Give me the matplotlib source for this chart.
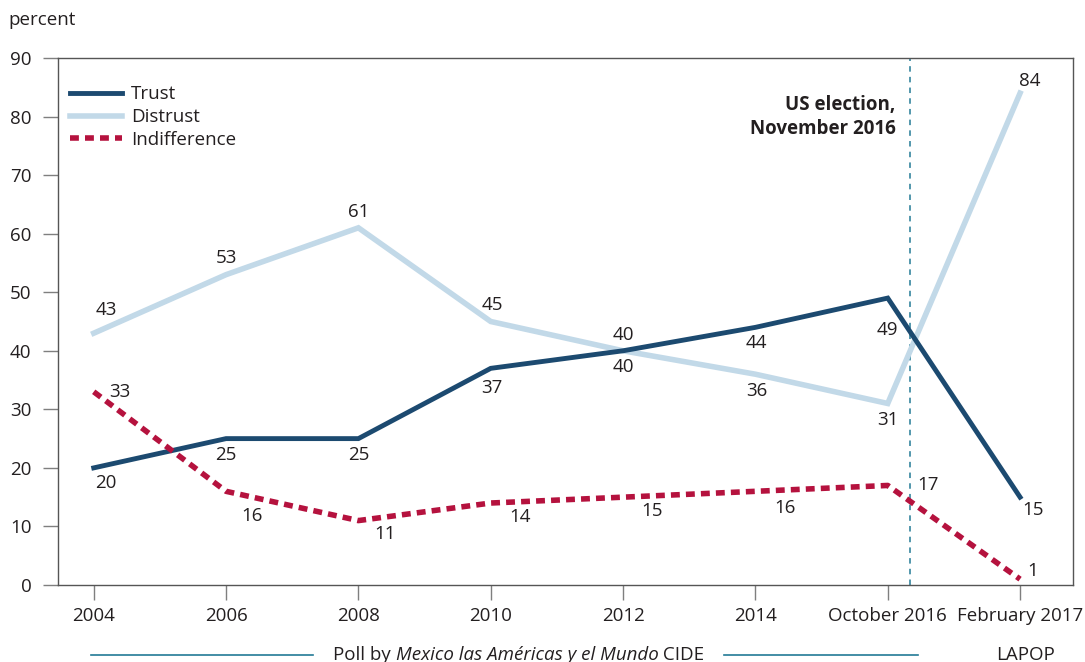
import matplotlib
matplotlib.use("Agg")
import matplotlib.pyplot as plt

plt.rcParams['font.family'] = ['Open Sans', 'DejaVu Sans']

# data
periods = ["2004", "2006", "2008", "2010", "2012", "2014", "October 2016", "February 2017"]
trust = [20, 25, 25, 37, 40, 44, 49, 15]
distrust = [43, 53, 61, 45, 40, 36, 31, 84]
indifference = [33, 16, 11, 14, 15, 16, 17, 1]
y_ticks = [0, 10, 20, 30, 40, 50, 60, 70, 80, 90]

c_trust = "#1c4a70"
c_distrust = "#c2d9e8"
c_indiff = "#b5123e"
c_event = "#237a96"
c_text = "#231f20"
fs = 13.5

W, H = 1085, 662
fig = plt.figure(figsize=(W / 100, H / 100), dpi=100)
ax = fig.add_axes([58 / W, 1 - 585 / H, (1073 - 58) / W, (585 - 58) / H])

x = list(range(len(periods)))
ax.axvline(6.17, color=c_event, lw=1.1, ls=(0, (3.6, 3.4)), zorder=1)
ax.plot(x, distrust, color=c_distrust, lw=4, label="Distrust", zorder=2,
        solid_joinstyle="miter")
ax.plot(x, trust, color=c_trust, lw=3.5, label="Trust", zorder=3,
        solid_joinstyle="miter")
ax.plot(x, indifference, color=c_indiff, lw=4, ls=(0, (1.6, 1.1)),
        label="Indifference", zorder=3)

ax.set_xlim(-0.27, 7.4)
ax.set_ylim(0, 90)
ax.set_xticks(x)
ax.set_xticklabels(periods)
ax.set_yticks(y_ticks)
ax.tick_params(axis="both", length=11, width=1, color="#7f7f7f",
               labelsize=fs, labelcolor=c_text)
ax.tick_params(axis="x", pad=5)
ax.tick_params(axis="y", pad=8)
for s in ax.spines.values():
    s.set_color("#555555")
    s.set_linewidth(1)

# value labels: (dx, dy) in points
lab_kw = dict(textcoords="offset points", fontsize=fs, color=c_text, va="center", ha="center")
trust_off = [(9, -11), (0, -12), (0, -12), (1, -14), (0, -12), (1, -11.5), (0, -23), (9, -9)]
distrust_off = [(9, 17), (0, 12), (0, 11.5), (1, 12), (0, 11), (1, -12), (0, -12), (7, 9)]
indiff_off = [(19, 0), (19, -18), (19, -10), (21, -10), (21, -10), (21, -12), (29, 0), (9, 6)]
for i in x:
    ax.annotate(str(trust[i]), (i, trust[i]), xytext=trust_off[i], **lab_kw)
    ax.annotate(str(distrust[i]), (i, distrust[i]), xytext=distrust_off[i], **lab_kw)
    ax.annotate(str(indifference[i]), (i, indifference[i]), xytext=indiff_off[i], **lab_kw)

ax.text(6.06, 79.9, "US election,\nNovember 2016", ha="right", va="center",
        fontsize=fs, fontweight="bold", color=c_text, linespacing=1.3)

handles, labels = ax.get_legend_handles_labels()
order = [1, 0, 2]
ax.legend([handles[i] for i in order], [labels[i] for i in order],
          loc="upper left", bbox_to_anchor=(0.0118, 0.948), frameon=False,
          fontsize=fs, handlelength=2.8, handletextpad=0.45,
          labelspacing=0.25, borderaxespad=0, borderpad=0, labelcolor=c_text)

fig.text(8 / W, 1 - 20 / H, "percent", fontsize=fs, color=c_text, va="center")

# source line at the bottom
yb = 1 - 655 / H
fig.add_artist(plt.Line2D([91 / W, 313 / W], [yb, yb], color=c_event, lw=1.2))
fig.add_artist(plt.Line2D([724 / W, 918 / W], [yb, yb], color=c_event, lw=1.2))
fig.canvas.draw()
r = fig.canvas.get_renderer()
xs = 333
pieces = [("Poll by ", "normal"), ("Mexico las Américas y el Mundo", "italic"), (" CIDE", "normal")]
for txt, style in pieces:
    t = fig.text(xs / W, yb, txt, fontsize=fs, style=style, color=c_text,
                 va="center", ha="left")
    xs += t.get_window_extent(renderer=r).width
fig.text(1026 / W, yb, "LAPOP", fontsize=fs, color=c_text, va="center", ha="center")

fig.savefig("out.png", dpi=100)
